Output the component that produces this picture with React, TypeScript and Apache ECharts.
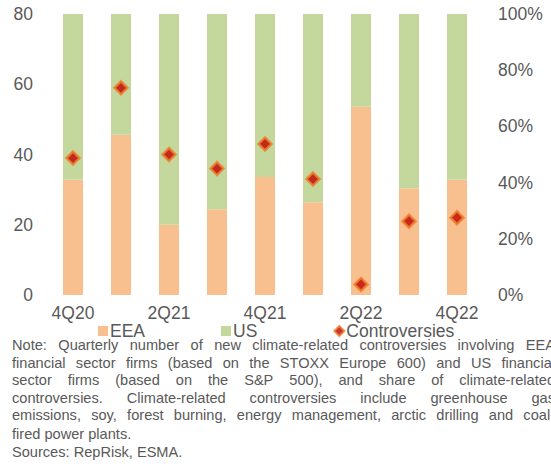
import React, { useEffect, useRef } from "react";
import * as echarts from "echarts";

const quarters = ["4Q20", "1Q21", "2Q21", "3Q21", "4Q21", "1Q22", "2Q22", "3Q22", "4Q22"];
const eeaShare = [41, 57, 25, 30.5, 42, 33, 67, 38, 41];
const usShare = [59, 43, 75, 69.5, 58, 67, 33, 62, 59];
const controversies = [39, 59, 40, 36, 43, 33, 3, 21, 22];
const leftTicks = [0, 20, 40, 60, 80];
const noteLines = [
  "Note: Quarterly number of new climate-related controversies involving EEA",
  "financial sector firms (based on the STOXX Europe 600) and US financial",
  "sector firms (based on the S&P 500), and share of climate-related",
  "controversies. Climate-related controversies include greenhouse gas",
  "emissions, soy, forest burning, energy management, arctic drilling and coal-",
  "fired power plants.",
  "Sources: RepRisk, ESMA.",
];
const justifiedLines = [true, true, true, true, true, false, false];

const FONT = "'Liberation Sans', Arial, sans-serif";
const TXT = "#595959";
const NOTE_FONT = `14.6px ${FONT}`;

export default function App() {
  const ref = useRef<HTMLDivElement>(null);
  useEffect(() => {
    if (!ref.current) return;
    const chart = echarts.init(ref.current, null, { renderer: "svg" });
    const lineYs = [345, 362.5, 380, 397.5, 415, 434, 452];
    const canvas = document.createElement("canvas");
    const ctx = canvas.getContext("2d")!;
    ctx.font = NOTE_FONT;
    const leftX = 12;
    const rightX = 555;
    const noteGraphics: any[] = [];
    noteLines.forEach((line, i) => {
      const cy = lineYs[i];
      if (!justifiedLines[i]) {
        noteGraphics.push({
          type: "text",
          x: leftX,
          y: cy,
          style: { text: line, font: NOTE_FONT, fill: TXT, verticalAlign: "middle", lineHeight: 13 },
        });
        return;
      }
      const words = line.split(" ");
      const widths = words.map((w) => ctx.measureText(w).width);
      const total = widths.reduce((a, b) => a + b, 0);
      const gap = (rightX - leftX - total) / (words.length - 1);
      let x = leftX;
      words.forEach((w, j) => {
        noteGraphics.push({
          type: "text",
          x,
          y: cy,
          style: { text: w, font: NOTE_FONT, fill: TXT, verticalAlign: "middle", lineHeight: 13 },
        });
        x += widths[j] + gap;
      });
    });
    chart.setOption({
      animation: false,
      textStyle: { fontFamily: FONT, color: TXT },
      grid: { left: 49, right: 70, top: 14, bottom: 464 - 295, containLabel: false },
      legend: {
        left: 98,
        top: 322,
        padding: 0,
        itemWidth: 10,
        itemHeight: 10,
        itemGap: 76,
        textStyle: { fontFamily: FONT, fontSize: 17.5, lineHeight: 13, color: TXT, padding: [0, 0, 0, -3] },
        data: [
          { name: "EEA", icon: "rect" },
          { name: "US", icon: "rect" },
          { name: "Controversies", icon: "diamond" },
        ],
      },
      xAxis: {
        type: "category",
        data: quarters,
        axisLine: { show: false },
        axisTick: { show: false },
        axisLabel: { interval: 1, fontSize: 17.5, lineHeight: 14, color: TXT, fontFamily: FONT, margin: 11 },
      },
      yAxis: [
        {
          type: "value",
          min: leftTicks[0],
          max: leftTicks[leftTicks.length - 1],
          interval: 20,
          splitLine: { show: false },
          axisLine: { show: false },
          axisTick: { show: false },
          axisLabel: { fontSize: 17.5, color: TXT, fontFamily: FONT, margin: 16 },
        },
        {
          type: "value",
          min: 0,
          max: 100,
          interval: 20,
          splitLine: { show: false },
          axisLine: { show: false },
          axisTick: { show: false },
          axisLabel: { fontSize: 17.5, color: TXT, fontFamily: FONT, margin: 17, formatter: "{value}%" },
        },
      ],
      series: [
        {
          name: "EEA",
          type: "bar",
          stack: "share",
          yAxisIndex: 1,
          barWidth: 20,
          data: eeaShare,
          itemStyle: { color: "#f8c08f" },
        },
        {
          name: "US",
          type: "bar",
          stack: "share",
          yAxisIndex: 1,
          barWidth: 20,
          data: usShare,
          itemStyle: { color: "#c4d79c" },
        },
        {
          name: "Controversies",
          type: "scatter",
          yAxisIndex: 0,
          symbol: "diamond",
          symbolSize: 13,
          data: controversies,
          itemStyle: { color: "#c00000", borderColor: "#f07f2a", borderWidth: 2.5 },
          z: 5,
        },
      ],
      graphic: noteGraphics,
    });
    return () => chart.dispose();
  }, []);
  return (
    <div
      ref={ref}
      style={{ position: "fixed", left: 0, top: 0, width: 551, height: 464, background: "#fff" }}
    />
  );
}
